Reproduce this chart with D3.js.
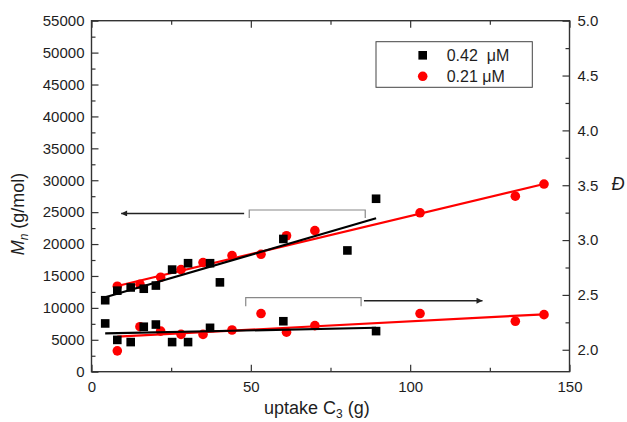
<!DOCTYPE html>
<html><head><meta charset="utf-8">
<script src="https://cdn.jsdelivr.net/npm/d3@7"></script>
<style>body{margin:0;background:#fff}svg{display:block}text{font-family:"Liberation Sans",Arial,sans-serif}</style>
</head><body>
<svg id="c" width="627" height="422"></svg>
<script>
// ---- data ----
const blackMnX = [4.3, 8.1, 12.3, 16.4, 20.2, 25.3, 30.3, 37.2, 40.3, 60.2, 80.3, 89.3];
const blackMnY = [11200, 12700, 13200, 13000, 13500, 16000, 17000, 17000, 14000, 20800, 19000, 27100];
const redMnX = [8.1, 15.2, 21.7, 28.1, 35.0, 44.1, 53.2, 61.2, 70.1, 103.1, 133.0, 142.0];
const redMnY = [13400, 13700, 14800, 16000, 17100, 18200, 18400, 21300, 22100, 24900, 27500, 29400];
const blackDX = [4.3, 8.1, 12.3, 16.4, 20.2, 25.3, 30.3, 37.2, 60.2, 89.3];
const blackDY = [2.24, 2.09, 2.07, 2.21, 2.23, 2.07, 2.07, 2.20, 2.26, 2.17];
const redDX = [8.1, 15.2, 21.7, 28.1, 35.0, 44.1, 53.2, 61.2, 70.1, 103.1, 133.0, 142.0];
const redDY = [1.99, 2.21, 2.17, 2.14, 2.14, 2.18, 2.33, 2.16, 2.22, 2.33, 2.26, 2.32];
// linear fits [slope, intercept, xStart, xEnd]
const fitBlackMn = [145.6, 11032, 4.3, 89.3];
const fitRedMn = [119.3, 12464, 8.1, 142.0];
const fitBlackD = [0.0006, 2.147, 4.3, 89.3];
const fitRedD = [0.001523, 2.107, 8.1, 142.0];
const xTicks = [0, 50, 100, 150];
const xMinor = [25, 75, 125];
const yLTicks = [0,5000,10000,15000,20000,25000,30000,35000,40000,45000,50000,55000];
const yRTicks = [2.0, 2.5, 3.0, 3.5, 4.0, 4.5, 5.0];
const legendLabels = ["0.42  \u03bcM", "0.21 \u03bcM"];

// ---- scales ----
const svg = d3.select("#c");
const L = 91.5, R = 569.5, T = 20.7, B = 371.7;
const x = d3.scaleLinear([0, 150], [L, R]);
const yL = d3.scaleLinear([0, 55000], [B, T]);
const yR = d3.scaleLinear([1.8, 5.0], [B, T]);
const axisCol = "#333";
const txtCol = "#1e1e1e";

function styleAxis(g){
  g.select(".domain").remove();
  g.selectAll("line").attr("stroke", axisCol).attr("stroke-width", 1.2);
  g.selectAll("text").attr("fill", txtCol).style("font-size", "15px");
}
const yLMinor = d3.range(2500, 55000, 5000);
const yRMinor = d3.range(1.75, 5.0, 0.5).filter(v => v > 1.8);

// left axis
svg.append("g").attr("transform", `translate(${L},0)`)
  .call(d3.axisLeft(yL).tickValues(yLTicks).tickFormat(d3.format("d")).tickSize(-7).tickPadding(7)).call(styleAxis);
svg.append("g").attr("transform", `translate(${L},0)`)
  .call(d3.axisLeft(yL).tickValues(yLMinor).tickFormat("").tickSize(-4)).call(styleAxis);
// right axis
svg.append("g").attr("transform", `translate(${R},0)`)
  .call(d3.axisRight(yR).tickValues(yRTicks).tickFormat(d3.format(".1f")).tickSize(-7).tickPadding(8)).call(styleAxis);
svg.append("g").attr("transform", `translate(${R},0)`)
  .call(d3.axisRight(yR).tickValues(yRMinor).tickFormat("").tickSize(-4)).call(styleAxis);
// bottom axis
svg.append("g").attr("transform", `translate(0,${B})`)
  .call(d3.axisBottom(x).tickValues(xTicks).tickSize(-7).tickPadding(10)).call(styleAxis);
svg.append("g").attr("transform", `translate(0,${B})`)
  .call(d3.axisBottom(x).tickValues(xMinor).tickFormat("").tickSize(-4)).call(styleAxis);
// top axis
svg.append("g").attr("transform", `translate(0,${T})`)
  .call(d3.axisTop(x).tickValues(xTicks).tickFormat("").tickSize(-7)).call(styleAxis);
svg.append("g").attr("transform", `translate(0,${T})`)
  .call(d3.axisTop(x).tickValues(xMinor).tickFormat("").tickSize(-4)).call(styleAxis);
// frame
svg.append("rect").attr("x", L).attr("y", T).attr("width", R - L).attr("height", B - T)
  .attr("fill", "none").attr("stroke", axisCol).attr("stroke-width", 1.4);

// ---- fit lines ----
function fitLine(f, ys, col){
  svg.append("line")
    .attr("x1", x(f[2])).attr("y1", ys(f[0]*f[2] + f[1]))
    .attr("x2", x(f[3])).attr("y2", ys(f[0]*f[3] + f[1]))
    .attr("stroke", col).attr("stroke-width", 2.2);
}
const red = "#ff0000";
// ---- points ----
function circles(xs, ys, sc){
  svg.append("g").selectAll("circle").data(xs).join("circle")
    .attr("cx", d => x(d)).attr("cy", (d,i) => sc(ys[i])).attr("r", 4.8).attr("fill", red);
}
function squares(xs, ys, sc){
  const s = 8.6;
  svg.append("g").selectAll("rect").data(xs).join("rect")
    .attr("x", d => x(d) - s/2).attr("y", (d,i) => sc(ys[i]) - s/2)
    .attr("width", s).attr("height", s).attr("fill", "#000");
}
circles(redMnX, redMnY, yL);
circles(redDX, redDY, yR);
fitLine(fitRedMn, yL, red);
fitLine(fitRedD, yR, red);
squares(blackMnX, blackMnY, yL);
squares(blackDX, blackDY, yR);
fitLine(fitBlackMn, yL, "#000");
fitLine(fitBlackD, yR, "#000");

// ---- annotations (brackets + arrows) ----
svg.append("defs").append("marker").attr("id", "ah").attr("viewBox", "0 0 10 10")
  .attr("refX", 10).attr("refY", 5).attr("markerWidth", 11).attr("markerHeight", 6)
  .attr("markerUnits", "userSpaceOnUse").attr("orient", "auto")
  .append("path").attr("d", "M0,0L10,5L0,10z").attr("fill", "#222");
function bracket(x0, x1, yTop, yLeg, sc){
  svg.append("path")
    .attr("d", `M${x(x0)},${sc(yLeg)}V${sc(yTop)}H${x(x1)}V${sc(yLeg)}`)
    .attr("fill", "none").attr("stroke", "#888").attr("stroke-width", 1.2);
}
function arrow(x0, x1, yv, sc){
  svg.append("line").attr("x1", x(x0)).attr("x2", x(x1)).attr("y1", sc(yv)).attr("y2", sc(yv))
    .attr("stroke", "#222").attr("stroke-width", 1.6).attr("marker-end", "url(#ah)");
}
bracket(49.5, 85.9, 25340, 24080, yL);
arrow(47.9, 9.3, 24790, yL);
bracket(48.4, 84.6, 2.475, 2.396, yR);
arrow(85.5, 122.7, 2.447, yR);

// ---- legend ----
const lg = svg.append("g");
lg.append("rect").attr("x", 376).attr("y", 41.7).attr("width", 156.3).attr("height", 45.6)
  .attr("fill", "#fff").attr("stroke", "#444").attr("stroke-width", 1);
lg.append("rect").attr("x", 422.7 - 4.3).attr("y", 55.3 - 4.3).attr("width", 8.6).attr("height", 8.6).attr("fill", "#000");
lg.append("circle").attr("cx", 422.7).attr("cy", 76.3).attr("r", 4.8).attr("fill", red);
lg.selectAll("text").data(legendLabels).join("text")
  .attr("x", 446.7).attr("y", (d,i) => 61 + i*21.3).attr("fill", txtCol)
  .style("font-size", "16px").style("white-space", "pre").text(d => d);

// ---- axis titles ----
const xt = svg.append("text").attr("x", 264).attr("y", 414).attr("fill", txtCol).style("font-size", "18px");
xt.append("tspan").text("uptake C");
xt.append("tspan").attr("dy", 4).style("font-size", "12px").text("3");
xt.append("tspan").attr("dy", -4).text(" (g)");

const yt = svg.append("text").attr("transform", "translate(24,214) rotate(-90)")
  .attr("text-anchor", "middle").attr("fill", txtCol).style("font-size", "18px");
yt.append("tspan").style("font-style", "italic").text("M");
yt.append("tspan").attr("dy", 4).style("font-style", "italic").style("font-size", "12px").text("n");
yt.append("tspan").attr("dy", -4).text(" (g/mol)");

svg.append("text").attr("x", 618).attr("y", 190).attr("text-anchor", "middle")
  .attr("fill", txtCol).style("font-size", "18px").style("font-style", "italic").text("\u0110");
</script>
</body></html>
